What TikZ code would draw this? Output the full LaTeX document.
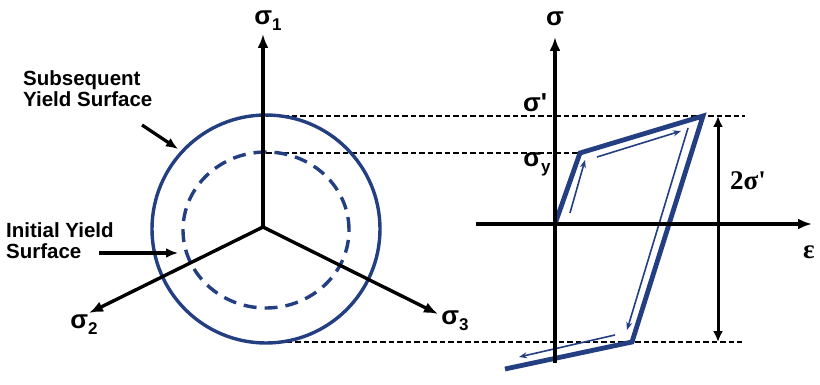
\documentclass[tikz,border=0pt]{standalone}
\usepackage{fontspec}
\setmainfont{Liberation Serif}[Ligatures=TeXOff]
\setsansfont{Liberation Sans}[Ligatures=TeXOff]
\usetikzlibrary{arrows.meta}
\definecolor{loopblue}{RGB}{36,62,130}
\newcommand{\lowsub}[1]{\raisebox{-0.45ex}{\fontsize{17}{17}\selectfont #1}}
\begin{document}
\begin{tikzpicture}[x=1pt,y=-1pt,
  axis/.style={line width=3.4pt,-{Latex[length=14pt,width=11pt]}},
  pointer/.style={line width=3.2pt,-{Latex[length=12pt,width=10pt]}},
  guide/.style={line width=1.5pt,dash pattern=on 5.5pt off 3pt},
  loopline/.style={loopblue,line width=4.8pt,line join=miter},
  flow/.style={loopblue,line width=1.6pt,-{Stealth[length=8pt,width=6pt]}},
  sflabel/.style={font=\sffamily\bfseries\fontsize{20.5}{21}\selectfont,align=left,inner sep=0pt},
  sig/.style={font=\sffamily\bfseries\fontsize{26}{26}\selectfont,inner sep=0pt},
  rml/.style={font=\rmfamily\bfseries\fontsize{27}{27}\selectfont,inner sep=0pt}
]
\useasboundingbox (0,0) rectangle (820,385);
\fill[white] (0,0) rectangle (820,385);

% ---------- left: principal stress space ----------
\coordinate (O1) at (263,227);
\coordinate (S1tip) at (263,34);
\coordinate (S2tip) at (89,313);
\coordinate (S3tip) at (438,314);
\coordinate (Ctop) at (266,116);
\coordinate (Cin) at (266,153);
\coordinate (Cbot) at (278,342);

% dashed guide lines
\coordinate (D1e) at (745,116);
\coordinate (D3e) at (742,342);

% hysteresis loop points
\coordinate (O2) at (555,224);
\coordinate (L1) at (580,153);
\coordinate (L2) at (703,116);
\coordinate (L3) at (632,342);
\coordinate (L4) at (505,369);

\draw[guide] (Ctop) -- (D1e);
\draw[guide] (Cin) -- (L1);
\draw[guide] (Cbot) -- (D3e);

\draw[loopblue,line width=3.4pt] (266,229) circle[radius=114pt];
\draw[loopblue,line width=3.4pt,dash pattern=on 13pt off 8pt] (266,230) ellipse[x radius=83pt,y radius=78pt];

\draw[axis] (O1) -- (S1tip);
\draw[axis] (O1) -- (S2tip);
\draw[axis] (O1) -- (S3tip);

\node[sig] (s1) at (268,21) {σ\lowsub{1}};
\node[sig] (s2) at (84,325) {σ\lowsub{2}};
\node[sig] (s3) at (455,321) {σ\lowsub{3}};

\node[sflabel,anchor=north west] (subs) at (23,70) {Subsequent\\Yield Surface};
\node[sflabel,anchor=north west] (init) at (6,222) {Initial Yield\\Surface};
\coordinate (a1s) at (142,125);
\coordinate (a1e) at (178,149);
\coordinate (a2s) at (99,253);
\coordinate (a2e) at (178,253);
\draw[pointer] (a1s) -- (a1e);
\draw[pointer] (a2s) -- (a2e);

% ---------- right: stress-strain loop ----------
\draw[loopline] (O2) -- (L1) -- (L2) -- (L3) -- (L4);

\coordinate (f1s) at (570,213); \coordinate (f1e) at (585,160);
\coordinate (f2s) at (597,157); \coordinate (f2e) at (681,131);
\coordinate (f3s) at (688,128); \coordinate (f3e) at (627,330);
\coordinate (f4s) at (615,335); \coordinate (f4e) at (519,357);
\draw[flow] (f1s) -- (f1e);
\draw[flow] (f2s) -- (f2e);
\draw[flow] (f3s) -- (f3e);
\draw[flow] (f4s) -- (f4e);

\coordinate (Sbot) at (555,363);
\coordinate (Stip) at (555,37);
\coordinate (Eleft) at (476,224);
\coordinate (Etip) at (812,224);
\draw[line width=3.4pt] (Sbot) -- (O2);
\draw[axis] (O2) -- (Stip);
\draw[line width=3.4pt] (Eleft) -- (O2);
\draw[axis] (O2) -- (Etip);

\coordinate (T1) at (718,116);
\coordinate (T2) at (718,342);
\draw[line width=3pt,{Latex[length=11pt,width=10pt]}-{Latex[length=11pt,width=10pt]}] (T1) -- (T2);

\node[sig] (sg) at (555,19) {σ};
\node[sig] (sp) at (535,103) {σ'};
\node[sig] (sy) at (537,164) {σ\lowsub{y}};
\node[rml] (ep) at (809,252) {ε};
\node[rml] (tw) at (748,181) {2σ'};
\end{tikzpicture}
\end{document}
